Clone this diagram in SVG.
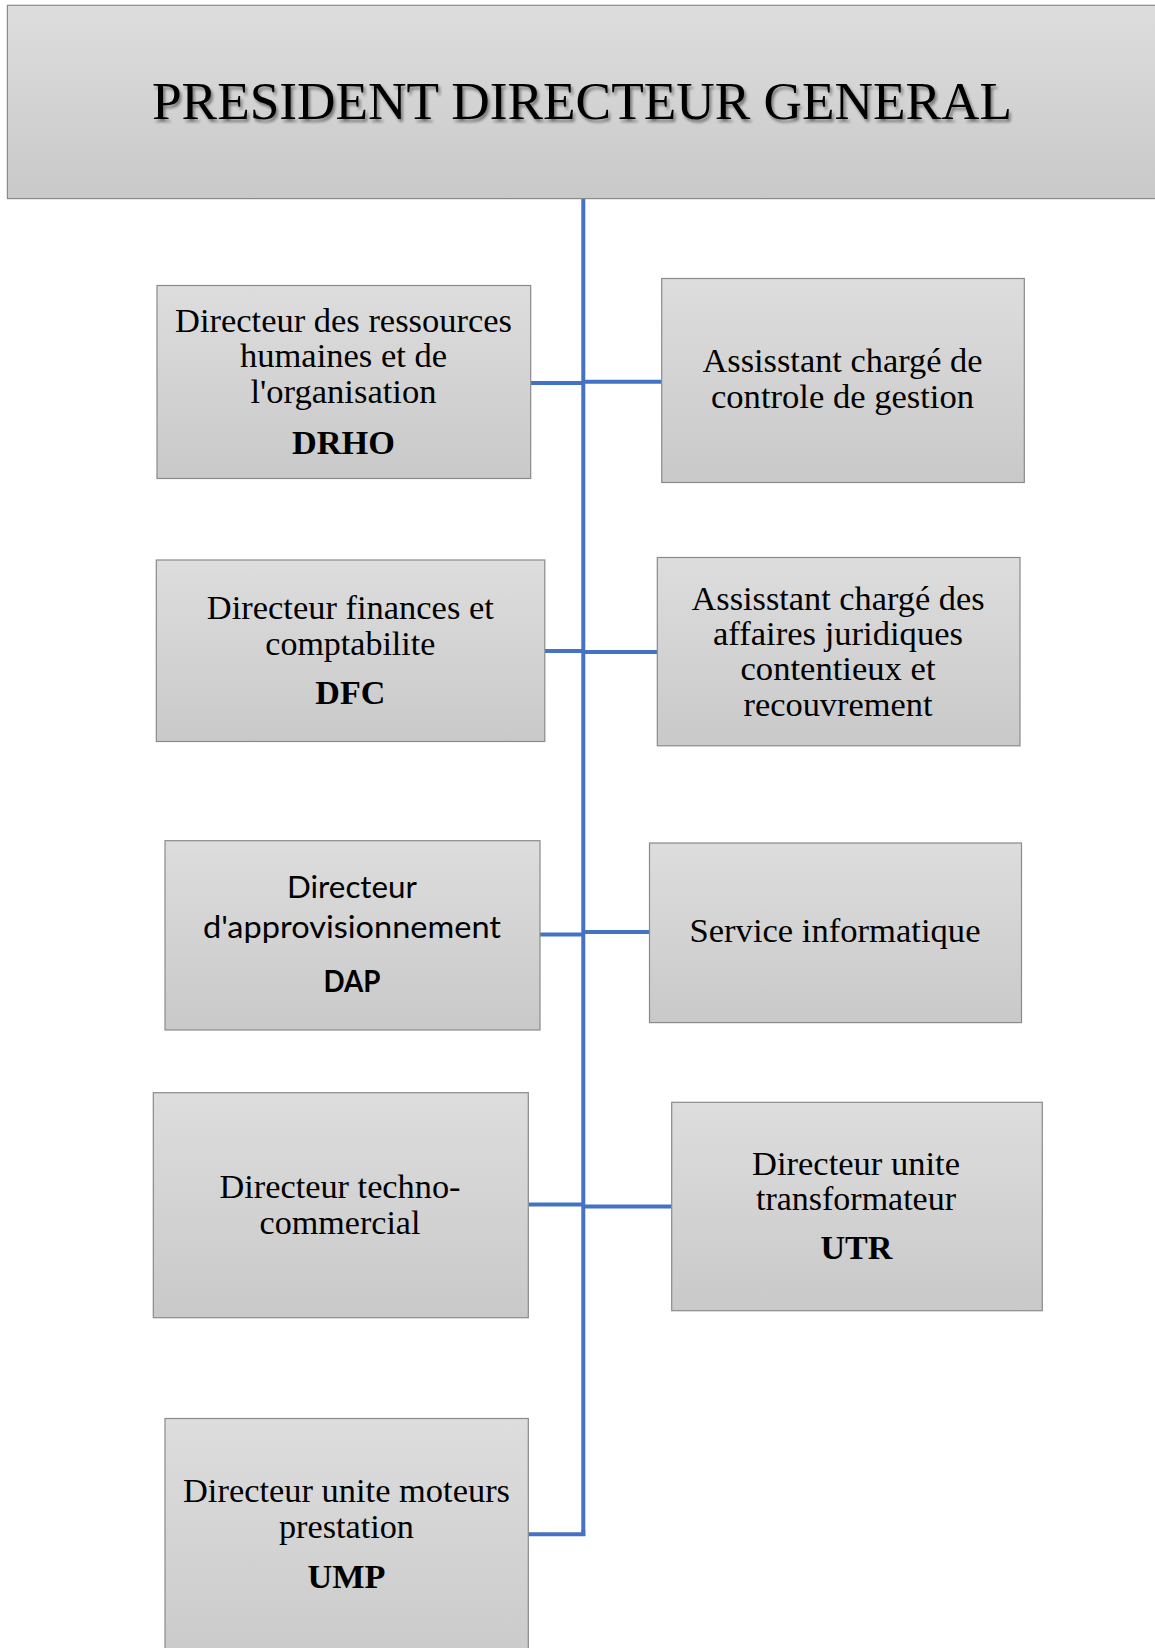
<svg xmlns="http://www.w3.org/2000/svg" width="1155" height="1648" viewBox="0 0 1155 1648">
  <defs>
    <linearGradient id="g" x1="0" y1="0" x2="0" y2="1">
      <stop offset="0" stop-color="#dddddd"/>
      <stop offset="1" stop-color="#c9c9c9"/>
    </linearGradient>
    <filter id="sh" x="-5%" y="-30%" width="110%" height="160%">
      <feGaussianBlur in="SourceAlpha" stdDeviation="1.5"/>
      <feOffset dx="2" dy="3" result="b"/>
      <feComponentTransfer><feFuncA type="linear" slope="0.45"/></feComponentTransfer>
      <feMerge><feMergeNode/><feMergeNode in="SourceGraphic"/></feMerge>
    </filter>
  </defs>
  <style>
    .box { fill: url(#g); stroke: #8a8a8a; stroke-width: 1.2; }
    .t { font-family: "Liberation Serif", "Times New Roman", serif; font-size: 33px; fill: #000; text-anchor: middle; }
    .b { font-weight: bold; }
    .s { font-family: Lato, "Open Sans", sans-serif; font-size: 30px; fill: #000; text-anchor: middle; }
    .c { stroke: #4472C4; stroke-width: 4; fill: none; }
  </style>
  <rect width="1155" height="1648" fill="#ffffff"/>

  <g id="connectors">
    <line class="c" x1="583.3" y1="198" x2="583.3" y2="1536"/>
    <line class="c" x1="531" y1="383" x2="583.3" y2="383"/>
    <line class="c" x1="583.3" y1="381.7" x2="661.7" y2="381.7"/>
    <line class="c" x1="545" y1="651" x2="583.3" y2="651"/>
    <line class="c" x1="583.3" y1="652" x2="657.3" y2="652"/>
    <line class="c" x1="540" y1="934.5" x2="583.3" y2="934.5"/>
    <line class="c" x1="583.3" y1="932" x2="649.5" y2="932"/>
    <line class="c" x1="528.5" y1="1204.5" x2="583.3" y2="1204.5"/>
    <line class="c" x1="583.3" y1="1206.5" x2="671.7" y2="1206.5"/>
    <polyline class="c" points="528.3,1534.3 583.3,1534.3 583.3,1530"/>
  </g>

  <g id="pdg">
    <rect class="box" x="7.4" y="5.3" width="1160" height="193.3"/>
    <text class="t" x="582" y="118.5" style="font-size:53px" textLength="860" lengthAdjust="spacingAndGlyphs" filter="url(#sh)">PRESIDENT DIRECTEUR GENERAL</text>
  </g>

  <g id="drho">
    <rect class="box" x="157" y="285.5" width="373.7" height="193"/>
    <text class="t" x="343.5" y="332" textLength="337" lengthAdjust="spacingAndGlyphs">Directeur des ressources</text>
    <text class="t" x="343.5" y="367" textLength="207" lengthAdjust="spacingAndGlyphs">humaines et de</text>
    <text class="t" x="343.5" y="402.5" textLength="186" lengthAdjust="spacingAndGlyphs">l'organisation</text>
    <text class="t b" x="343.5" y="454" textLength="103" lengthAdjust="spacingAndGlyphs">DRHO</text>
  </g>

  <g id="controle">
    <rect class="box" x="661.7" y="278.5" width="362.6" height="204"/>
    <text class="t" x="842.5" y="371.7" textLength="280" lengthAdjust="spacingAndGlyphs">Assisstant chargé de</text>
    <text class="t" x="842.5" y="408.3" textLength="263" lengthAdjust="spacingAndGlyphs">controle de gestion</text>
  </g>

  <g id="dfc">
    <rect class="box" x="156.3" y="560" width="388.5" height="181.5"/>
    <text class="t" x="350.3" y="619" textLength="287" lengthAdjust="spacingAndGlyphs">Directeur finances et</text>
    <text class="t" x="350.3" y="655" textLength="170" lengthAdjust="spacingAndGlyphs">comptabilite</text>
    <text class="t b" x="350.3" y="704" textLength="70" lengthAdjust="spacingAndGlyphs">DFC</text>
  </g>

  <g id="juridiques">
    <rect class="box" x="657.3" y="557.5" width="362.7" height="188.3"/>
    <text class="t" x="838" y="610" textLength="293" lengthAdjust="spacingAndGlyphs">Assisstant chargé des</text>
    <text class="t" x="838" y="645" textLength="250" lengthAdjust="spacingAndGlyphs">affaires juridiques</text>
    <text class="t" x="838" y="680" textLength="195" lengthAdjust="spacingAndGlyphs">contentieux et</text>
    <text class="t" x="838" y="715.5" textLength="189" lengthAdjust="spacingAndGlyphs">recouvrement</text>
  </g>

  <g id="dap">
    <rect class="box" x="165" y="840.7" width="375" height="189.3"/>
    <text class="s" x="352" y="898.3" textLength="130" lengthAdjust="spacingAndGlyphs">Directeur</text>
    <text class="s" x="352" y="938.3" textLength="298" lengthAdjust="spacingAndGlyphs">d'approvisionnement</text>
    <text class="s b" x="352" y="991.7" textLength="57" lengthAdjust="spacingAndGlyphs">DAP</text>
  </g>

  <g id="informatique">
    <rect class="box" x="649.5" y="843" width="372" height="179.6"/>
    <text class="t" x="835" y="942" textLength="291" lengthAdjust="spacingAndGlyphs">Service informatique</text>
  </g>

  <g id="techno">
    <rect class="box" x="153.3" y="1092.7" width="375" height="225"/>
    <text class="t" x="340" y="1198.3" textLength="241" lengthAdjust="spacingAndGlyphs">Directeur techno-</text>
    <text class="t" x="340" y="1234" textLength="161" lengthAdjust="spacingAndGlyphs">commercial</text>
  </g>

  <g id="utr">
    <rect class="box" x="671.7" y="1102.3" width="370.6" height="208.4"/>
    <text class="t" x="856" y="1175" textLength="208" lengthAdjust="spacingAndGlyphs">Directeur unite</text>
    <text class="t" x="856" y="1210" textLength="200" lengthAdjust="spacingAndGlyphs">transformateur</text>
    <text class="t b" x="856.5" y="1259.3" textLength="72" lengthAdjust="spacingAndGlyphs">UTR</text>
  </g>

  <g id="ump">
    <rect class="box" x="165" y="1418.5" width="363.3" height="260"/>
    <text class="t" x="346.5" y="1501.7" textLength="327" lengthAdjust="spacingAndGlyphs">Directeur unite moteurs</text>
    <text class="t" x="346.5" y="1537.7" textLength="135" lengthAdjust="spacingAndGlyphs">prestation</text>
    <text class="t b" x="346.5" y="1588.3" textLength="78" lengthAdjust="spacingAndGlyphs">UMP</text>
  </g>
</svg>
